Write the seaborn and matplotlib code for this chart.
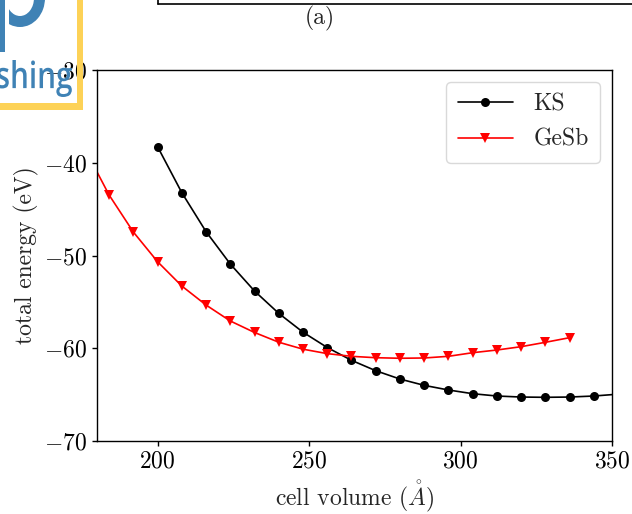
import numpy as np
import pandas as pd
import matplotlib
matplotlib.use("Agg")
import matplotlib.pyplot as plt
import seaborn as sns
from matplotlib.patches import Rectangle, Annulus, PathPatch
from matplotlib.textpath import TextPath
from matplotlib.font_manager import FontProperties
from matplotlib.transforms import Affine2D

# ---- data ----
ks_volume = [200, 208, 216, 224, 232, 240, 248, 256, 264, 272, 280, 288, 296,
             304, 312, 320, 328, 336, 344, 352]
ks_energy = [-38.27, -43.23, -47.43, -50.92, -53.83, -56.24, -58.27, -59.92,
             -61.30, -62.42, -63.32, -64.00, -64.50, -64.90, -65.15, -65.26,
             -65.29, -65.26, -65.15, -64.95]

gesb_volume = [176, 184, 192, 200, 208, 216, 224, 232, 240, 248, 256, 264, 272,
               280, 288, 296, 304, 312, 320, 328, 336]
gesb_energy = [-38.5, -43.48, -47.47, -50.67, -53.29, -55.34, -57.06, -58.30,
               -59.35, -60.10, -60.58, -60.87, -61.02, -61.08, -61.05, -60.87,
               -60.48, -60.19, -59.83, -59.36, -58.86]

x_ticks = [200, 250, 300, 350]
y_ticks = [-70, -60, -50, -40, -30]

FS = 17

sns.set_style("ticks")
plt.rcParams.update({
    "font.family": ["serif"],
    "font.serif": ["cmr10", "DejaVu Serif"],
    "mathtext.fontset": "cm",
    "axes.formatter.use_mathtext": True,
    "font.size": FS,
    "axes.linewidth": 1.0,
    "xtick.direction": "out",
    "ytick.direction": "out",
    "xtick.major.size": 3.5,
    "ytick.major.size": 3.5,
    "xtick.color": "black",
    "ytick.color": "black",
    "axes.edgecolor": "black",
})

W, H = 632, 514
fig = plt.figure(figsize=(W / 100, H / 100), dpi=100)
ax = fig.add_axes([97 / W, 1 - 441 / H, (612 - 97) / W, (441 - 70) / H])

ks_df = pd.DataFrame({"volume": ks_volume, "energy": ks_energy})
gesb_df = pd.DataFrame({"volume": gesb_volume, "energy": gesb_energy})

sns.lineplot(data=ks_df, x="volume", y="energy", ax=ax, color="black",
             marker="o", markersize=6.5, markeredgewidth=0, linewidth=1.2,
             label="KS")
sns.lineplot(data=gesb_df, x="volume", y="energy", ax=ax, color="red",
             marker="v", markersize=7, markeredgewidth=0, linewidth=1.2,
             label="GeSb")

ax.set_xlim(180, 350)
ax.set_ylim(-70, -30)
ax.set_xticks(x_ticks)
ax.set_yticks(y_ticks)
ax.tick_params(labelsize=FS, width=1.0)
ax.set_xlabel(r"cell volume ($\mathring{A}$)", fontsize=FS)
ax.set_ylabel("total energy (eV)", fontsize=FS)

leg = ax.legend(loc="upper right", fontsize=FS, frameon=True, fancybox=True,
                borderpad=0.5, handlelength=2.35, handletextpad=0.85,
                labelspacing=0.55, borderaxespad=0.5)
leg.get_frame().set_edgecolor("#d0d0d0")
leg.get_frame().set_linewidth(1.0)

# ---- cropped surroundings visible in the reference (image-pixel coords) ----
T = Affine2D().scale(1, -1).translate(0, H)   # image px (y down) -> display

fig.add_artist(plt.Line2D([158, W + 5], [4, 4], transform=T, color="black", lw=1.2))
fig.add_artist(plt.Line2D([158, 158], [4, -5], transform=T, color="black", lw=1.2))
fig.text(320 / W, 1 - 18 / H, "(a)", ha="center", va="center", fontsize=FS)

blue = "#3f82b5"
yellow = "#fdd257"
# yellow frame of the logo
fig.add_artist(Rectangle((77, -5), 6, 115, transform=T, facecolor=yellow,
                         edgecolor="none"))
fig.add_artist(Rectangle((-5, 103), 88, 7, transform=T, facecolor=yellow,
                         edgecolor="none"))
# "p" glyph part
fig.add_artist(Rectangle((-10, -5), 15, 57, transform=T, facecolor=blue,
                         edgecolor="none"))
bowl = Annulus((20, -2), (25, 29), 11, transform=T, facecolor=blue,
               edgecolor="none")
clip = Rectangle((9, -60), 100, 200, transform=T)
fig.add_artist(bowl)
bowl.set_clip_path(clip)

# "shing" text of the logo, fitted into its box
tp = TextPath((0, 0), "shing", size=40,
              prop=FontProperties(family="Open Sans", weight="semibold"))
ext = tp.get_extents()
x0, x1, y0, y1 = -3, 72, 60, 97       # target box in image px
sx = (x1 - x0) / ext.width
sy = (y1 - y0) / ext.height
fit = (Affine2D().translate(-ext.x0, -ext.y0).scale(sx, sy)
       .translate(x0, H - y1))
fig.add_artist(PathPatch(tp, transform=fit, facecolor=blue, edgecolor="none"))

fig.savefig("out.png", dpi=100)
